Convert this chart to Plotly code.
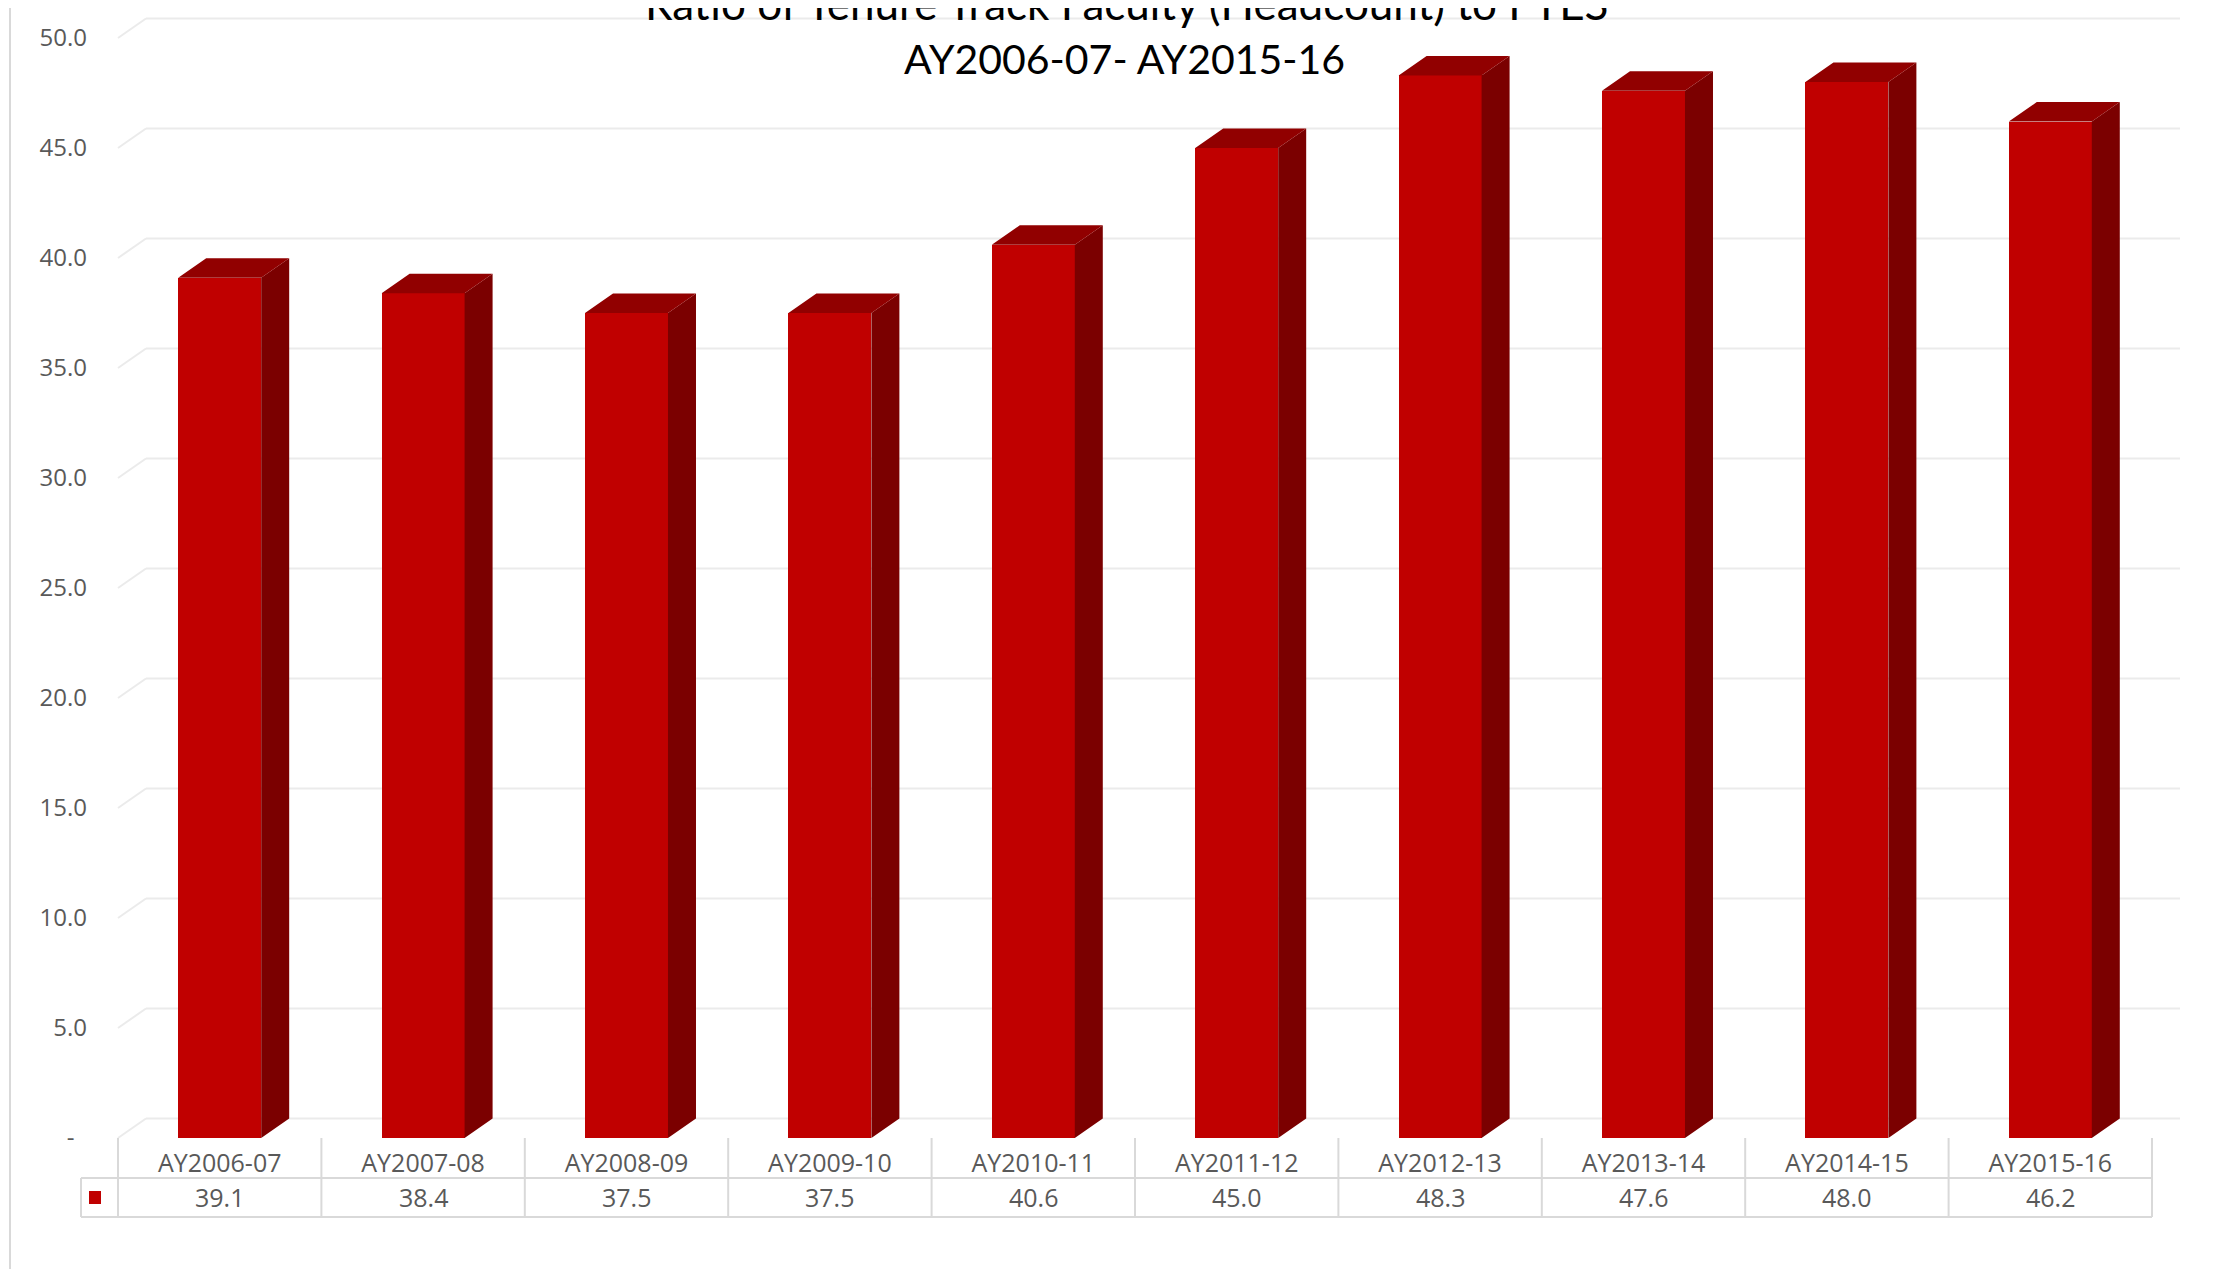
import plotly.graph_objects as go

# ---------------- data ----------------
categories = ["AY2006-07", "AY2007-08", "AY2008-09", "AY2009-10", "AY2010-11",
              "AY2011-12", "AY2012-13", "AY2013-14", "AY2014-15", "AY2015-16"]
ratios = [39.1, 38.4, 37.5, 37.5, 40.6, 45.0, 48.3, 47.6, 48.0, 46.2]
y_tick_values = [0, 5, 10, 15, 20, 25, 30, 35, 40, 45, 50]
y_tick_labels = ["-\u00a0\u00a0", "5.0", "10.0", "15.0", "20.0", "25.0",
                 "30.0", "35.0", "40.0", "45.0", "50.0"]
title_line1 = "Ratio of Tenure Track Faculty (Headcount) to FTES"
title_line2 = "AY2006-07- AY2015-16"

# ---------------- geometry (screen pixels) ----------------
SCREEN_W, SCREEN_H = 2226, 1269
OFF = 8                              # default page body margin
W, H = SCREEN_W - OFF, SCREEN_H - OFF  # figure size
PX_PER_CAT = 203.4      # pixels per category
X_LEFT_PX = 118         # screen pixel of category -0.5
PX_PER_UNIT = 22.0      # pixels per y unit
Y0_PX = 1138            # screen pixel of y = 0 (front plane)


def x_of_px(px):
    return -0.5 + (px - X_LEFT_PX) / PX_PER_CAT


def y_of_px(py):
    return (Y0_PX - py) / PX_PER_UNIT


def paper_x(px):
    return (px - OFF) / W


def paper_y(py):
    return 1 - (py - OFF) / H


DX = 28 / PX_PER_CAT     # 3D depth offset (x)
DY = 19.5 / PX_PER_UNIT  # 3D depth offset (y)
BAR_W = 0.408

FRONT = "#C00000"
SIDE = "#7B0000"
TOP = "#910000"
GRID = "#EBEBEB"
TABLE_LINE = "#D9D9D9"
TEXT = "#595959"

n = len(categories)
xs = list(range(n))

fig = go.Figure()

# front faces
fig.add_trace(go.Bar(x=xs, y=ratios, width=BAR_W, marker=dict(color=FRONT, line=dict(width=0)),
                     showlegend=False, hoverinfo="skip"))

# side faces
sx, sy = [], []
for x, v in zip(xs, ratios):
    r = x + BAR_W / 2
    sx += [r, r, r + DX, r + DX, r, None]
    sy += [0, v, v + DY, DY, 0, None]
fig.add_trace(go.Scatter(x=sx, y=sy, mode="lines", fill="toself", fillcolor=SIDE,
                         line=dict(width=0, color=SIDE), showlegend=False, hoverinfo="skip"))

# top faces
tx, ty = [], []
for x, v in zip(xs, ratios):
    l, r = x - BAR_W / 2, x + BAR_W / 2
    tx += [l, l + DX, r + DX, r, l, None]
    ty += [v, v + DY, v + DY, v, v, None]
fig.add_trace(go.Scatter(x=tx, y=ty, mode="lines", fill="toself", fillcolor=TOP,
                         line=dict(width=0, color=TOP), showlegend=False, hoverinfo="skip"))

shapes = []
# back-wall gridlines + left-wall diagonals
for v in y_tick_values:
    shapes.append(dict(type="line", xref="x", yref="y", layer="below",
                       x0=-0.5 + DX, x1=n - 0.5 + DX, y0=v + DY, y1=v + DY,
                       line=dict(color=GRID, width=2)))
    shapes.append(dict(type="line", xref="x", yref="y", layer="below",
                       x0=-0.5, x1=-0.5 + DX, y0=v, y1=v + DY,
                       line=dict(color=GRID, width=2)))

# data table lines
tbl_top, tbl_mid, tbl_bot = y_of_px(1138), y_of_px(1178), y_of_px(1217)
for k in range(n + 1):
    shapes.append(dict(type="line", xref="x", yref="y", x0=k - 0.5, x1=k - 0.5,
                       y0=tbl_top, y1=tbl_bot, line=dict(color=TABLE_LINE, width=2)))
for yy in (tbl_mid, tbl_bot):
    shapes.append(dict(type="line", xref="x", yref="y", x0=x_of_px(81), x1=n - 0.5,
                       y0=yy, y1=yy, line=dict(color=TABLE_LINE, width=2)))
shapes.append(dict(type="line", xref="x", yref="y", x0=x_of_px(81), x1=x_of_px(81),
                   y0=tbl_mid, y1=tbl_bot, line=dict(color=TABLE_LINE, width=2)))
# legend key
shapes.append(dict(type="rect", xref="x", yref="y", x0=x_of_px(89), x1=x_of_px(101),
                   y0=y_of_px(1204), y1=y_of_px(1191), fillcolor=FRONT, line=dict(width=0)))
# left border of the chart area
shapes.append(dict(type="line", xref="x", yref="y", x0=x_of_px(10), x1=x_of_px(10),
                   y0=y_of_px(OFF), y1=y_of_px(SCREEN_H), line=dict(color=TABLE_LINE, width=2)))

annotations = []
for x, v in zip(xs, ratios):
    annotations.append(dict(x=x, y=y_of_px(1197), xref="x", yref="y", text=f"{v:.1f}",
                            showarrow=False, xanchor="center", yanchor="middle",
                            font=dict(family="Open Sans", size=25, color=TEXT)))
annotations.append(dict(x=paper_x(1126), y=paper_y(3), xref="paper", yref="paper", text=title_line1,
                        showarrow=False, xanchor="center", yanchor="middle",
                        font=dict(family="Lato", size=44, color="black")))
annotations.append(dict(x=paper_x(1124), y=paper_y(59), xref="paper", yref="paper", text=title_line2,
                        showarrow=False, xanchor="center", yanchor="middle",
                        font=dict(family="Lato", size=41, color="black")))

fig.update_layout(
    template="none",
    width=W, height=H,
    margin=dict(l=0, r=0, t=0, b=0),
    paper_bgcolor="white", plot_bgcolor="rgba(0,0,0,0)",
    showlegend=False,
    bargap=0,
    shapes=shapes,
    annotations=annotations,
    xaxis=dict(range=[x_of_px(OFF), x_of_px(SCREEN_W)], anchor="free", position=paper_y(Y0_PX),
               tickmode="array", tickvals=xs, ticktext=categories,
               tickfont=dict(family="Open Sans", size=25, color=TEXT),
               showgrid=False, zeroline=False, showline=False, ticks="",
               ticklabelstandoff=8, automargin=False, fixedrange=True),
    yaxis=dict(range=[y_of_px(SCREEN_H), y_of_px(OFF)], anchor="free", position=paper_x(X_LEFT_PX),
               tickmode="array", tickvals=y_tick_values, ticktext=y_tick_labels,
               tickfont=dict(family="Open Sans", size=24, color=TEXT),
               showgrid=False, zeroline=False, showline=False, ticks="",
               ticklabelstandoff=31, automargin=False, fixedrange=True),
)

fig.write_html("out.html")
